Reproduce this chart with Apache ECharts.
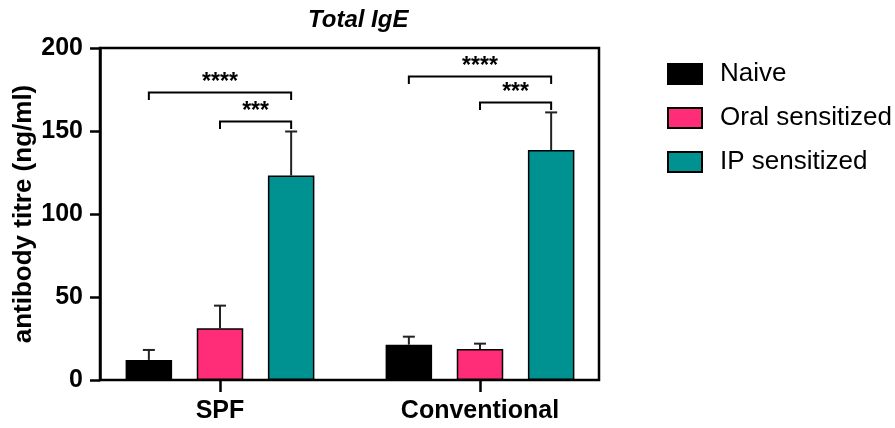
<!DOCTYPE html>
<html><head><meta charset="utf-8">
<script src="https://cdn.jsdelivr.net/npm/echarts@6/dist/echarts.min.js"></script>
<style>html,body{margin:0;padding:0;background:#fff}#c{width:895px;height:428px}</style>
</head><body><div id="c"></div>
<script>
const categories = ['SPF', 'Conventional'];
const seriesNames = ['Naive', 'Oral sensitized', 'IP sensitized'];
const naive = [12.1, 21.3];
const oral = [31.2, 18.7];
const ip = [123.2, 138.5];
const naiveErr = [6.0, 4.8];
const oralErr = [13.6, 3.2];
const ipErr = [26.5, 22.7];
const yTicks = [0, 50, 100, 150, 200];
const bracketGroup = [0, 0, 1, 1];
const bracketFrom = [0, 1, 0, 1];
const bracketTo = [2, 2, 2, 2];
const bracketY = [173.2, 155.7, 182.9, 167.2];
const bracketLabel = ['****', '***', '****', '***'];

const FONT = '"Liberation Sans", Arial, Helvetica, sans-serif';
const colors = ['#000000', '#FF2C78', '#009191'];
const BAR_W = 46.5, BAR_GAP = 0.53;
const STEP = BAR_W * (1 + BAR_GAP);

const values = [naive, oral, ip];
const errs = [naiveErr, oralErr, ipErr];
const errData = [];
for (let s = 0; s < 3; s++) for (let g = 0; g < categories.length; g++) errData.push([g, values[s][g], values[s][g] + errs[s][g], s]);
const brData = bracketY.map((y, i) => [bracketGroup[i], bracketFrom[i], bracketTo[i], y]);

const chart = echarts.init(document.getElementById('c'));
const barSeries = seriesNames.map((n, s) => ({
  name: n, type: 'bar', xAxisIndex: 0, yAxisIndex: 0, data: values[s],
  barWidth: BAR_W, barGap: (BAR_GAP * 100) + '%',
  itemStyle: { color: colors[s], borderColor: '#000', borderWidth: 1.5 }, z: 3
}));
chart.setOption({
  animation: false,
  title: { text: 'Total IgE', left: 303, top: 3,
    textStyle: { fontFamily: FONT, fontStyle: 'italic', fontWeight: 'bold', fontSize: 24, color: '#000' } },
  legend: { orient: 'vertical', left: 667, top: 61, padding: 0, itemWidth: 34, itemHeight: 20, itemGap: 18,
    icon: 'rect', data: seriesNames,
    textStyle: { fontFamily: FONT, fontSize: 26, color: '#000', lineHeight: 24, padding: [0, 0, 0, 13] } },
  grid: [
    { left: 90, width: 520, top: 48, height: 332, outerBoundsMode: 'none', containLabel: false },
    { left: 100, width: 499, top: 48, height: 332, outerBoundsMode: 'none', containLabel: false,
      show: true, borderColor: '#000', borderWidth: 2.5, backgroundColor: 'transparent' }
  ],
  xAxis: [
    { type: 'category', gridIndex: 0, data: categories,
      axisLine: { show: false },
      axisTick: { show: true, alignWithLabel: true, length: 12, lineStyle: { width: 2.5, color: '#000' } },
      axisLabel: { margin: 19, fontFamily: FONT, fontWeight: 'bold', fontSize: 25, color: '#000' } },
    { type: 'value', gridIndex: 1, min: 0, max: 1, show: false }
  ],
  yAxis: [
    { type: 'value', gridIndex: 0, min: 0, max: 200, show: false },
    { type: 'value', gridIndex: 1, min: yTicks[0], max: yTicks[yTicks.length - 1], interval: 50,
      axisLine: { show: true, lineStyle: { width: 2.5, color: '#000' } },
      axisTick: { show: true, length: 10, lineStyle: { width: 2.5, color: '#000' } },
      splitLine: { show: false },
      axisLabel: { margin: 17, fontFamily: FONT, fontWeight: 'bold', fontSize: 25, color: '#000' },
      name: 'antibody titre (ng/ml)', nameLocation: 'middle', nameGap: 63, nameRotate: 90, nameMoveOverlap: false,
      nameTextStyle: { fontFamily: FONT, fontWeight: 'bold', fontSize: 26, color: '#000' } }
  ],
  series: barSeries.concat([
    { type: 'custom', name: 'err', xAxisIndex: 0, yAxisIndex: 0, data: errData, z: 2,
      renderItem: function (params, api) {
        const g = api.value(0), s = api.value(3);
        const b = api.coord([g, api.value(1)]);
        const t = api.coord([g, api.value(2)]);
        const x = b[0] + (s - 1) * STEP;
        return { type: 'group', children: [
          { type: 'line', shape: { x1: x, y1: b[1], x2: x, y2: t[1] }, style: { stroke: '#222', lineWidth: 2 } },
          { type: 'line', shape: { x1: x - 6, y1: t[1], x2: x + 6, y2: t[1] }, style: { stroke: '#222', lineWidth: 2 } }
        ] };
      } },
    { type: 'custom', name: 'sig', xAxisIndex: 0, yAxisIndex: 0, data: brData, z: 4,
      renderItem: function (params, api) {
        const i = params.dataIndex;
        const p = api.coord([api.value(0), api.value(3)]);
        const x1 = p[0] + (api.value(1) - 1) * STEP;
        const x2 = p[0] + (api.value(2) - 1) * STEP;
        const y = p[1], LEG = 7.5;
        return { type: 'group', children: [
          { type: 'polyline', shape: { points: [[x1, y + LEG], [x1, y], [x2, y], [x2, y + LEG]] },
            style: { stroke: '#000', lineWidth: 2, fill: null } },
          { type: 'text', style: { text: bracketLabel[i], x: (x1 + x2) / 2, y: y - 10, align: 'center', verticalAlign: 'middle',
            fontFamily: FONT, fontWeight: 'bold', fontSize: 23, fill: '#000' } }
        ] };
      } }
  ])
});
</script></body></html>
